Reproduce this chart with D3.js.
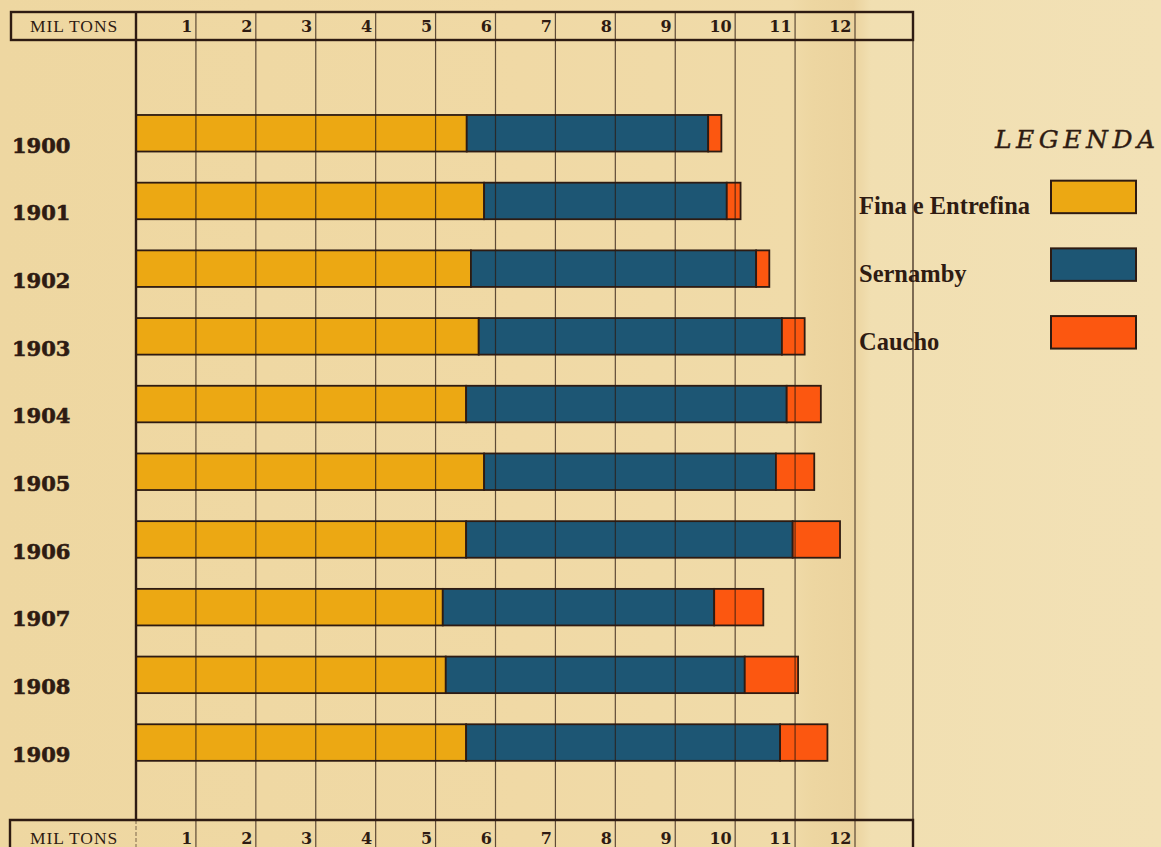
<!DOCTYPE html>
<html>
<head>
<meta charset="utf-8">
<script src="https://cdn.jsdelivr.net/npm/d3@7"></script>
<style>
  html, body { margin: 0; padding: 0; background: #efd8a3; }
  svg { display: block; }
</style>
</head>
<body>
<svg id="chart" width="1161" height="847"></svg>
<script>
// ---- Data (thousand tons) ----
const years = ["1900","1901","1902","1903","1904","1905","1906","1907","1908","1909"];
const fina     = [5.52, 5.81, 5.59, 5.72, 5.51, 5.81, 5.51, 5.12, 5.17, 5.51];
const sernamby = [4.03, 4.05, 4.76, 5.06, 5.35, 4.87, 5.45, 4.53, 4.99, 5.24];
const caucho   = [0.22, 0.23, 0.22, 0.38, 0.57, 0.64, 0.79, 0.82, 0.89, 0.79];
const tickValues = [1,2,3,4,5,6,7,8,9,10,11,12];
const seriesNames = ["Fina e Entrefina", "Sernamby", "Caucho"];
const axisLabel = "MIL TONS";
const legendTitle = "LEGENDA";

// ---- Styles ----
const colors = ["#eca813", "#1d5674", "#fc5710"];
const ink = "#2e1b12";

const svg = d3.select("#chart");
const W = 1161, H = 847;

// Background paper with slight fold shading
const defs = svg.append("defs");
const grad = defs.append("linearGradient").attr("id", "paper").attr("x1", 0).attr("x2", 1).attr("y1", 0).attr("y2", 0);
[[0, "#eed7a1"], [0.45, "#f0d9a5"], [0.68, "#f0dba9"], [0.70, "#edd6a1"], [0.735, "#ebd39e"], [0.75, "#f1dfb1"], [1, "#f2e1b6"]]
  .forEach(([o, c]) => grad.append("stop").attr("offset", o).attr("stop-color", c));
svg.append("rect").attr("width", W).attr("height", H).attr("fill", "url(#paper)");

// Scales
const x = d3.scaleLinear().domain([0, 12]).range([136, 855]);
const xRight = x(12) + 58;          // extra empty column at right
const headerTop = 12, headerBottom = 40;
const footerTop = 820;

const y = d3.scaleBand().domain(years).range([99.4, 776.4]).paddingInner(0.46).paddingOuter(0.23);

// Stack
const rows = years.map((yr, i) => ({ year: yr, f: fina[i], s: sernamby[i], c: caucho[i] }));
const stack = d3.stack().keys(["f", "s", "c"]);
const stacked = stack(rows);

// Bars
const gBars = svg.append("g");
stacked.forEach((layer, li) => {
  gBars.selectAll(null).data(layer).enter().append("rect")
    .attr("x", d => x(d[0]))
    .attr("y", d => y(d.data.year))
    .attr("width", d => x(d[1]) - x(d[0]))
    .attr("height", y.bandwidth())
    .attr("fill", colors[li])
    .attr("stroke", ink)
    .attr("stroke-width", 1.8);
});

// Vertical grid lines (over bars, as printed)
const gGrid = svg.append("g");
gGrid.selectAll(null).data(tickValues).enter().append("line")
  .attr("x1", d => x(d)).attr("x2", d => x(d))
  .attr("y1", headerTop).attr("y2", H)
  .attr("stroke", ink).attr("stroke-width", 1.2).attr("stroke-opacity", 0.75);
gGrid.append("line").attr("x1", xRight).attr("x2", xRight).attr("y1", headerTop).attr("y2", H)
  .attr("stroke", ink).attr("stroke-width", 1.4).attr("stroke-opacity", 0.85);

// Left axis line
svg.append("line").attr("x1", x(0)).attr("x2", x(0)).attr("y1", headerTop).attr("y2", footerTop)
  .attr("stroke", ink).attr("stroke-width", 2.4);

// Header box
svg.append("rect").attr("x", 11).attr("y", headerTop).attr("width", xRight - 11).attr("height", headerBottom - headerTop)
  .attr("fill", "none").attr("stroke", ink).attr("stroke-width", 2.4);

// Footer box (open at bottom)
svg.append("path")
  .attr("d", `M10,${H + 2}V${footerTop}H${xRight}V${H + 2}`)
  .attr("fill", "none").attr("stroke", ink).attr("stroke-width", 2.4);
svg.append("line").attr("x1", x(0)).attr("x2", x(0)).attr("y1", footerTop).attr("y2", H)
  .attr("stroke", ink).attr("stroke-width", 1).attr("stroke-opacity", 0.6).attr("stroke-dasharray", "4,2");

// Axis texts (top and bottom) using d3 axis for tick placement
function tickRow(yBase) {
  const ax = d3.axisTop(x).tickValues(tickValues).tickSize(0).tickFormat(d3.format("d"));
  const g = svg.append("g").attr("transform", `translate(0,${yBase})`).call(ax);
  g.select(".domain").remove();
  g.selectAll(".tick text")
    .attr("text-anchor", "end")
    .attr("dx", -4)
    .attr("dy", 0)
    .attr("y", 0)
    .attr("fill", ink)
    .style("font-family", "'DejaVu Serif', serif")
    .style("font-weight", "bold")
    .style("font-size", "16px");
  svg.append("text").attr("x", 30).attr("y", yBase)
    .attr("fill", ink)
    .style("font-family", "'Liberation Serif', serif")
    .style("font-size", "17.5px")
    .style("letter-spacing", "0.9px")
    .text(axisLabel);
}
tickRow(32);
tickRow(844);

// Year labels
svg.append("g").selectAll(null).data(years).enter().append("text")
  .attr("x", 12)
  .attr("y", d => y(d) + y.bandwidth() + 1)
  .attr("fill", ink)
  .attr("stroke", ink).attr("stroke-width", 0.6)
  .style("font-family", "'DejaVu Serif', serif")
  .style("font-weight", "bold")
  .style("font-size", "21px")
  .text(d => d);

// Legend
svg.append("text").attr("x", 995).attr("y", 148)
  .attr("fill", ink)
  .attr("stroke", ink).attr("stroke-width", 0.4)
  .style("font-family", "'DejaVu Serif', serif")
  .style("font-style", "italic")
  .style("font-size", "25px")
  .style("letter-spacing", "4.5px")
  .text(legendTitle);

const legendRows = seriesNames.map((n, i) => ({ name: n, color: colors[i], i }));
const lg = svg.append("g");
lg.selectAll(null).data(legendRows).enter().append("rect")
  .attr("x", 1051)
  .attr("y", d => y(years[d.i + 1]) - 2)
  .attr("width", 85).attr("height", 32.5)
  .attr("fill", d => d.color)
  .attr("stroke", ink).attr("stroke-width", 2);
lg.selectAll(null).data(legendRows).enter().append("text")
  .attr("x", 859)
  .attr("y", d => y(years[d.i + 1]) + y.bandwidth() - 5)
  .attr("fill", ink)
  .style("font-family", "'Liberation Serif', serif")
  .style("font-weight", "bold")
  .style("font-size", "24.5px")
  .text(d => d.name);
</script>
</body>
</html>
